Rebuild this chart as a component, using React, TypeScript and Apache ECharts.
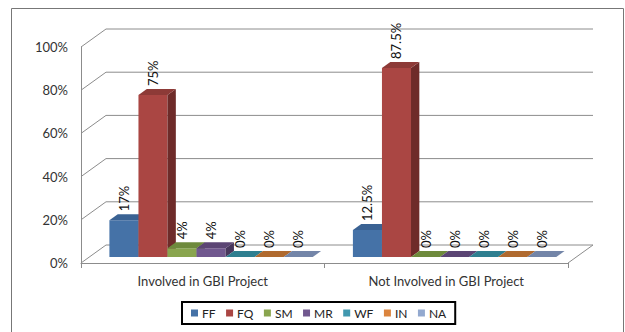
import React, { useEffect, useRef } from "react";
import * as echarts from "echarts";

// Categories, series and tick values
const categories = ["Involved in GBI Project", "Not Involved in GBI Project"];
const seriesNames = ["FF", "FQ", "SM", "MR", "WF", "IN", "NA"];
const FF = [17, 12.5];
const FQ = [75, 87.5];
const SM = [4, 0];
const MR = [4, 0];
const WF = [0, 0];
const IN = [0, 0];
const NA = [0, 0];
const seriesValues = [FF, FQ, SM, MR, WF, IN, NA];
const yTicks = [0, 20, 40, 60, 80, 100];

// Face colours per series: front, top, side
const faceColors = [
  ["#4572A7", "#3A6293", "#2E4E76"],
  ["#AA4643", "#8D3A37", "#6E2B29"],
  ["#89A54E", "#6E8A3C", "#5A7031"],
  ["#71588F", "#5B4574", "#48375C"],
  ["#4198AF", "#2F7F90", "#276A78"],
  ["#DB843D", "#B06A2F", "#8D5526"],
  ["#93A9CF", "#7385A8", "#5E6D8A"],
];

// Depth vector of the 3-D box (pixels)
const DEPTH_X = 25;
const DEPTH_Y = -18;
const FONT = "Lato, 'Liberation Sans', sans-serif";
const GRID_COLOR = "#8c8c8c";

export default function App() {
  const ref = useRef<HTMLDivElement>(null);

  useEffect(() => {
    document.body.style.margin = "0";
    if (!ref.current) return;
    const chart = echarts.init(ref.current, undefined, { renderer: "svg" });

    const wallSeries = {
      type: "custom",
      name: "wall",
      silent: true,
      clip: false,
      z: 1,
      data: yTicks.map((t) => [0, t]),
      renderItem: (params: any, api: any) => {
        const cs = params.coordSys;
        const y = api.coord([0, api.value(1)])[1];
        const x0 = cs.x;
        const x1 = cs.x + cs.width;
        const children: any[] = [
          {
            type: "line",
            shape: { x1: x0, y1: y, x2: x0 + DEPTH_X, y2: y + DEPTH_Y },
            style: { stroke: GRID_COLOR, lineWidth: 1 },
          },
          {
            type: "line",
            shape: { x1: x0 + DEPTH_X, y1: y + DEPTH_Y, x2: x1 + DEPTH_X, y2: y + DEPTH_Y },
            style: { stroke: GRID_COLOR, lineWidth: 1 },
          },
        ];
        if (api.value(1) === 0) {
          children.push({
            type: "line",
            shape: { x1: x1, y1: y, x2: x1 + DEPTH_X, y2: y + DEPTH_Y },
            style: { stroke: GRID_COLOR, lineWidth: 1 },
          });
        }
        return { type: "group", children };
      },
    };

    const barSeries = seriesNames.map((name, k) => ({
      type: "custom",
      name,
      clip: false,
      z: 2 + k,
      itemStyle: { color: faceColors[k][0] },
      data: seriesValues[k].map((v, i) => [i, v]),
      renderItem: (params: any, api: any) => {
        const cat = api.value(0);
        const v = api.value(1);
        const base = api.coord([cat, 0]);
        const top = api.coord([cat, v]);
        const cw = api.size([1, 0])[0];
        const bw = cw * 0.1193;
        const dx = DEPTH_X / 3;
        const dy = DEPTH_Y / 3;
        const fx = base[0] + dx + (k - 3.5) * bw;
        const fy0 = base[1] + dy;
        const fy1 = top[1] + dy;
        const [front, topC, side] = faceColors[k];
        const children: any[] = [];
        if (fy0 - fy1 > 0) {
          children.push({
            type: "rect",
            shape: { x: fx, y: fy1, width: bw, height: fy0 - fy1 },
            style: { fill: front },
          });
          children.push({
            type: "polygon",
            shape: {
              points: [
                [fx + bw, fy1],
                [fx + bw + dx, fy1 + dy],
                [fx + bw + dx, fy0 + dy],
                [fx + bw, fy0],
              ],
            },
            style: { fill: side },
          });
        }
        children.push({
          type: "polygon",
          shape: {
            points: [
              [fx, fy1],
              [fx + dx, fy1 + dy],
              [fx + bw + dx, fy1 + dy],
              [fx + bw, fy1],
            ],
          },
          style: { fill: topC },
        });
        children.push({
          type: "text",
          x: fx + bw / 2,
          y: fy1 + dy - 3,
          rotation: Math.PI / 2,
          style: {
            text: v + "%",
            fill: "#111",
            font: `13px ${FONT}`,
            align: "left",
            verticalAlign: "middle",
          },
        });
        return { type: "group", children };
      },
    }));

    chart.setOption({
      animation: false,
      backgroundColor: "#fff",
      graphic: [
        {
          type: "rect",
          shape: { x: 11.5, y: 8.5, width: 612, height: 340 },
          style: { fill: "none", stroke: "#777", lineWidth: 1 },
          silent: true,
          z: 0,
        },
      ],
      legend: {
        data: seriesNames,
        left: 182,
        top: 302,
        icon: "rect",
        itemWidth: 7,
        itemHeight: 7,
        itemGap: 10.5,
        padding: [5, 9, 5, 9],
        borderColor: "#000",
        borderWidth: 2,
        textStyle: { fontFamily: FONT, fontSize: 12, color: "#222", padding: [0, 0, 0, -1] },
      },
      grid: { left: 81, top: 47, right: 57, bottom: 69 },
      xAxis: {
        type: "category",
        data: categories,
        axisLine: { lineStyle: { color: GRID_COLOR } },
        axisTick: { show: true, length: 5, lineStyle: { color: GRID_COLOR } },
        axisLabel: { margin: 11, fontFamily: FONT, fontSize: 13, color: "#333" },
        splitLine: { show: false },
      },
      yAxis: {
        type: "value",
        min: 0,
        max: 100,
        interval: 20,
        axisLine: { show: true, lineStyle: { color: GRID_COLOR } },
        axisTick: { show: false },
        splitLine: { show: false },
        axisLabel: {
          formatter: "{value}%",
          margin: 13,
          fontFamily: FONT,
          fontSize: 13,
          color: "#333",
        },
      },
      series: [wallSeries, ...barSeries],
    });

    return () => chart.dispose();
  }, []);

  return <div ref={ref} style={{ width: 625, height: 332 }} />;
}
